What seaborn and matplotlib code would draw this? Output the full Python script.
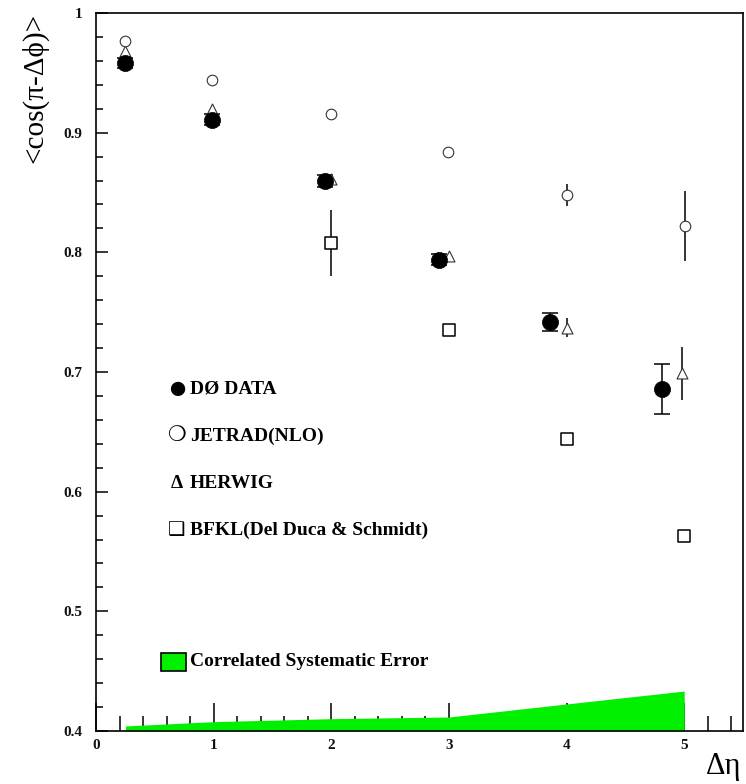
import matplotlib
matplotlib.use("Agg")
import matplotlib.pyplot as plt
from matplotlib.patches import Rectangle
from matplotlib.ticker import MultipleLocator, FixedLocator
import seaborn as sns

# D0 data: <cos(pi - dphi)> versus delta-eta
data_x = [0.25, 0.99, 1.95, 2.92, 3.86, 4.81]
data_y = [0.958, 0.911, 0.860, 0.794, 0.742, 0.686]
data_err = [0.004, 0.005, 0.005, 0.005, 0.0075, 0.021]

# JETRAD (NLO) prediction
jetrad_x = [0.25, 0.99, 2.0, 2.99, 4.0, 5.01]
jetrad_y = [0.977, 0.944, 0.916, 0.884, 0.848, 0.822]
jetrad_err = [0.002, 0.002, 0.002, 0.002, 0.009, 0.029]

# HERWIG prediction
herwig_x = [0.25, 0.99, 2.0, 3.0, 4.0, 4.98]
herwig_y = [0.968, 0.920, 0.861, 0.797, 0.737, 0.699]
herwig_err = [0.002, 0.002, 0.002, 0.002, 0.008, 0.022]

# BFKL (Del Duca & Schmidt)
bfkl_x = [2.0, 3.0, 4.0, 5.0]
bfkl_y = [0.808, 0.735, 0.644, 0.563]
bfkl_err = [0.0275, 0.0, 0.0, 0.0]

# correlated systematic error band (height above the axis floor)
band_x = [0.25, 1.0, 2.0, 3.0, 4.0, 5.0]
band_h = [0.0042, 0.0078, 0.0103, 0.0117, 0.0226, 0.0334]

x_ticks = [0, 1, 2, 3, 4, 5]
x_ticklabels = ["0", "1", "2", "3", "4", "5"]
y_ticks = [0.4, 0.5, 0.6, 0.7, 0.8, 0.9, 1.0]
y_ticklabels = ["0.4", "0.5", "0.6", "0.7", "0.8", "0.9", "1"]

legend_labels = ["DØ DATA", "JETRAD(NLO)", "HERWIG", "BFKL(Del Duca & Schmidt)"]
legend_symbols = ["●", "❍", "Δ", "❑"]
band_label = "Correlated Systematic Error"
y_title = "<cos(π-Δϕ)>"
x_title = "Δη"

sns.set_theme(style="ticks")
serif = ["Liberation Serif", "DejaVu Serif", "DejaVu Sans"]
plt.rcParams["font.family"] = serif
plt.rcParams["text.color"] = "black"

W, H = 746, 784
fig = plt.figure(figsize=(W / 100, H / 100), dpi=100)
fig.patch.set_facecolor("white")
ax = fig.add_axes([96 / W, 1 - 731 / H, (743 - 96) / W, (731 - 13) / H])
ax.set_facecolor("white")

Y0 = 0.4
green = "#00f000"
ax.fill_between(band_x, Y0, [Y0 + h for h in band_h], color=green,
                linewidth=0, zorder=2.6)

lw = 1.1
ax.errorbar(data_x, data_y, yerr=data_err, fmt="none", ecolor="black",
            elinewidth=lw, capsize=6, capthick=lw, zorder=3)
ax.errorbar(jetrad_x, jetrad_y, yerr=jetrad_err, fmt="none", ecolor="black",
            elinewidth=lw, capsize=0, zorder=3)
ax.errorbar(herwig_x, herwig_y, yerr=herwig_err, fmt="none", ecolor="black",
            elinewidth=lw, capsize=0, zorder=3)
ax.errorbar(bfkl_x, bfkl_y, yerr=bfkl_err, fmt="none", ecolor="black",
            elinewidth=lw, capsize=0, zorder=3)

sns.scatterplot(x=herwig_x, y=herwig_y, marker="^", s=62, color="white",
                edgecolor="#333333", linewidth=0.8, ax=ax, zorder=4)
sns.scatterplot(x=jetrad_x, y=jetrad_y, marker="o", s=58, color="white",
                edgecolor="#333333", linewidth=0.8, ax=ax, zorder=4)
sns.scatterplot(x=bfkl_x, y=bfkl_y, marker="s", s=64, color="white",
                edgecolor="black", linewidth=1.1, ax=ax, zorder=4)
sns.scatterplot(x=data_x, y=data_y, marker="o", s=135, color="black",
                edgecolor="black", linewidth=0.5, ax=ax, zorder=5)

ax.set_xlim(0, 5.5)
ax.set_ylim(Y0, 1.0)
ax.set_xlabel("")
ax.set_ylabel("")

ax.xaxis.set_major_locator(FixedLocator(x_ticks))
ax.xaxis.set_minor_locator(MultipleLocator(0.2))
ax.yaxis.set_major_locator(FixedLocator(y_ticks))
ax.yaxis.set_minor_locator(MultipleLocator(0.02))
ax.set_xticklabels(x_ticklabels)
ax.set_yticklabels(y_ticklabels)

ax.tick_params(axis="x", which="major", direction="in", length=20, width=1.1,
               pad=6, labelsize=11, bottom=True, top=False, colors="black")
ax.tick_params(axis="x", which="minor", direction="in", length=10.5, width=1.1,
               bottom=True, top=False, colors="black")
ax.tick_params(axis="y", which="major", direction="in", length=8.5, width=1.1,
               pad=10, labelsize=11, left=True, right=False, colors="black")
ax.tick_params(axis="y", which="minor", direction="in", length=5, width=1.1,
               left=True, right=False, colors="black")
for lab in ax.get_xticklabels() + ax.get_yticklabels():
    lab.set_fontweight("bold")
    lab.set_color("#111111")

for side in ["left", "right", "top", "bottom"]:
    ax.spines[side].set_visible(True)
    ax.spines[side].set_linewidth(1.2)
    ax.spines[side].set_color("black")
ax.spines["bottom"].set_zorder(3)
ax.grid(False)

# in-plot key
rows_y = [389, 436, 483, 530]
sym_sizes = {"●": 24, "❍": 15, "Δ": 14, "❑": 14}
for sym, lab, yy in zip(legend_symbols, legend_labels, rows_y):
    fig.text(177 / W, 1 - yy / H, sym, ha="center", va="center",
             fontsize=sym_sizes[sym], family=serif, fontweight="bold",
             color="black")
    fig.text(190 / W, 1 - yy / H, lab, ha="left", va="center",
             fontsize=14, family=serif, fontweight="bold", color="black")

fig.patches.append(Rectangle((161 / W, 1 - 671 / H), 25 / W, 18 / H,
                             transform=fig.transFigure, facecolor=green,
                             edgecolor="black", linewidth=1.2))
fig.text(190 / W, 1 - 662 / H, band_label, ha="left", va="center",
         fontsize=14, family=serif, fontweight="bold", color="black")

fig.text(35 / W, 1 - 88 / H, y_title, rotation=90, ha="center", va="center",
         fontsize=21, family=serif, color="black")
fig.text(741 / W, 1 - 774 / H, x_title, ha="right", va="baseline",
         fontsize=22, family=serif, color="black")

fig.savefig("out.png", dpi=100, facecolor="white")
